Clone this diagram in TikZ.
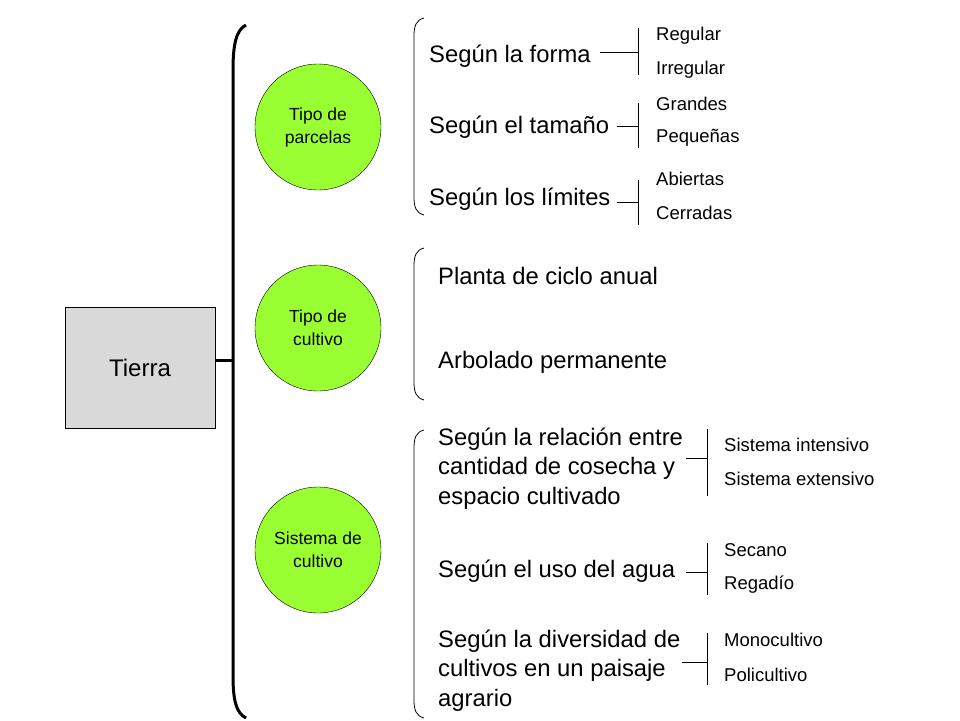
\documentclass[tikz,border=0pt]{standalone}
\usepackage{fontspec}
\setmainfont{Liberation Sans}
\begin{document}
\begin{tikzpicture}[x=1pt,y=-1pt,
  big/.style={font=\fontsize{23.8}{28}\selectfont,anchor=west,inner sep=0pt},
  small/.style={font=\fontsize{18.5}{21}\selectfont,anchor=west,inner sep=0pt},
  circ/.style={circle,draw=black,minimum size=126pt,inner sep=0pt,align=center,font=\fontsize{17.5}{23}\selectfont},
  thin/.style={draw=black,line width=0.8pt}]
\definecolor{cgreen}{HTML}{99FF33}
\useasboundingbox (0,0) rectangle (960,720);
\node[draw=black,fill=black!15,minimum width=150pt,minimum height=121pt,font=\fontsize{24}{28}\selectfont] (tierra) at (140,367.5) {Tierra};
\coordinate (bb) at (233,360);
\draw[line width=3pt] (tierra.east |- bb) -- (bb);
\draw[line width=3pt] (246,25) .. controls (236,30) and (233,45) .. (233,70) -- (233,675) .. controls (233,700) and (236,713) .. (246,718);
\node[circ,fill=cgreen] (c1) at (318,127) {Tipo de\\parcelas};
\node[circ,fill=cgreen] (c2) at (318,328) {Tipo de\\cultivo};
\node[circ,fill=cgreen] (c3) at (318,550) {Sistema de\\cultivo};
% thin braces
\draw[thin] (424,18) .. controls (416,20) and (414,26) .. (414,36) -- (414,197) .. controls (414,207) and (416,213) .. (424,215);
\draw[thin] (424,248) .. controls (416,250) and (414,256) .. (414,266) -- (414,382) .. controls (414,392) and (416,398) .. (424,400);
\draw[thin] (424,430) .. controls (416,432) and (414,438) .. (414,448) -- (414,700) .. controls (414,710) and (416,716) .. (424,718);
% group 1
\node[big] (f1) at (429,56) {Según la forma};
\node[big] (f2) at (429,127) {Según el tamaño};
\node[big] (f3) at (429,199) {Según los límites};
\coordinate (b1) at (638,52); \coordinate (b2) at (638,126); \coordinate (b3) at (638,202);
\draw[thin] (600,52) -- (b1);
\draw[thin] (617,126) -- (b2);
\draw[thin] (617,202) -- (b3);
\draw[thin] (638,28) -- (638,75);
\draw[thin] (638,103) -- (638,148);
\draw[thin] (638,180) -- (638,225);
\node[small] (r1) at (656,36) {Regular};
\node[small] (r2) at (656,70) {Irregular};
\node[small] (r3) at (656,104) {Grandes};
\node[small] (r4) at (656,138) {Pequeñas};
\node[small] (r5) at (656,179) {Abiertas};
\node[small] (r6) at (656,213) {Cerradas};
% group 2
\node[big] (p1) at (438,276) {Planta de ciclo anual};
\node[big] (p2) at (438,362) {Arbolado permanente};
% group 3
\node[big,align=left,font=\fontsize{23.8}{29.5}\selectfont] (s1) at (438,468.5) {Según la relación entre\\cantidad de cosecha y\\espacio cultivado};
\node[big] (s2) at (438,571) {Según el uso del agua};
\node[big,align=left,font=\fontsize{23.8}{29.5}\selectfont] (s3) at (438,670.5) {Según la diversidad de\\cultivos en un paisaje\\agrario};
\coordinate (d1) at (707,458); \coordinate (d2) at (707,572); \coordinate (d3) at (707,662);
\draw[thin] (686,458) -- (d1);
\draw[thin] (686,572) -- (d2);
\draw[thin] (682,662) -- (d3);
\draw[thin] (707,429) -- (707,496);
\draw[thin] (707,543) -- (707,595);
\draw[thin] (707,633) -- (707,685);
\node[small] (t1) at (724,445) {Sistema intensivo};
\node[small] (t2) at (724,479) {Sistema extensivo};
\node[small] (t3) at (724,550) {Secano};
\node[small] (t4) at (724,585) {Regadío};
\node[small] (t5) at (724,640) {Monocultivo};
\node[small] (t6) at (724,675) {Policultivo};
\end{tikzpicture}
\end{document}
